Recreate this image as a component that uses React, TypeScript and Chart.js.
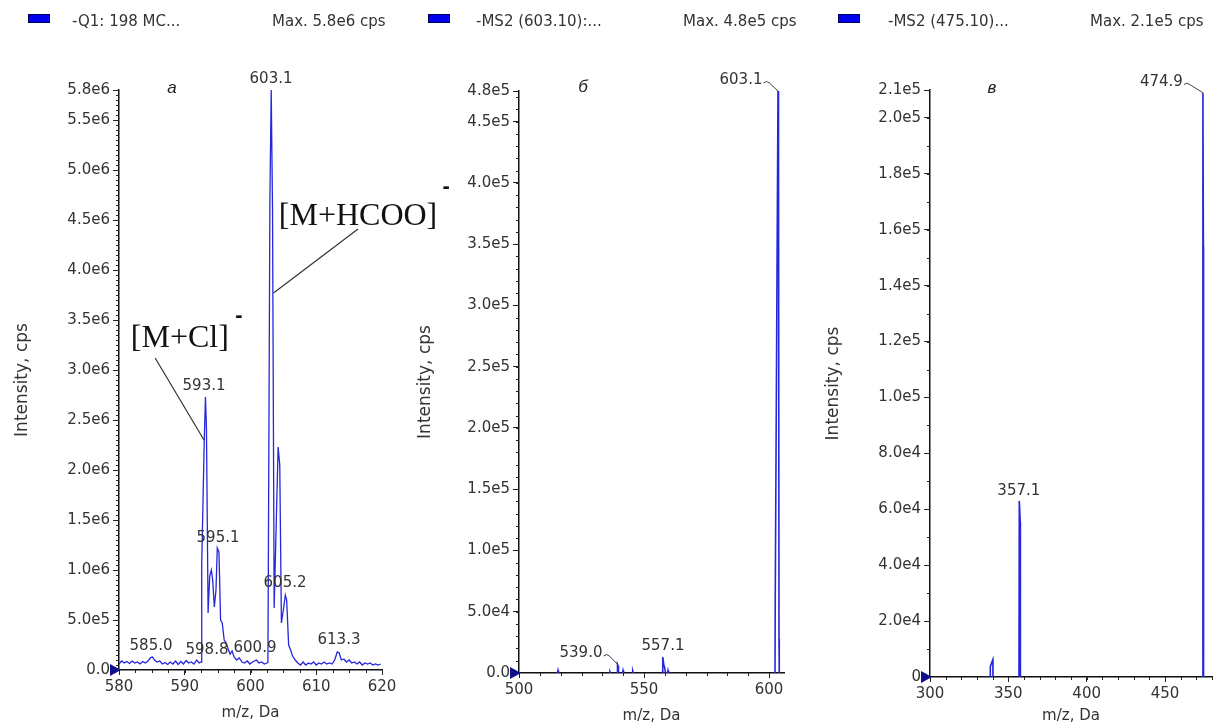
import React, { useEffect, useRef } from "react";
import { Chart, registerables } from "chart.js";

Chart.register(...registerables);

const FONT = "'DejaVu Sans', sans-serif";

// ---------- Panel a: -Q1 full scan (profile) ----------
const mzA = [
  580.0, 580.4, 580.8, 581.2, 581.6, 582.0, 582.4, 582.8, 583.2, 583.6, 584.0, 584.4, 584.8, 585.1, 585.4, 585.8,
  586.2, 586.6, 587.0, 587.4, 587.8, 588.2, 588.6, 589.0, 589.4, 589.8, 590.2, 590.6, 591.0, 591.4, 591.8, 592.2,
  592.5, 592.58, 592.95, 593.15, 593.3, 593.55, 593.8, 594.05, 594.25, 594.5, 594.75, 594.95, 595.2, 595.45, 595.7,
  596.0, 596.3, 596.6, 596.9, 597.2, 597.5, 597.9, 598.3, 598.7, 599.1, 599.5, 599.9, 600.3, 600.9, 601.3, 601.7,
  602.1, 602.5, 602.65, 602.7, 602.95, 603.15, 603.35, 603.6, 604.2, 604.45, 604.7, 605.0, 605.3, 605.5, 605.8,
  606.1, 606.4, 606.8, 607.2, 607.6, 608.0, 608.4, 608.8, 609.2, 609.6, 610.0, 610.4, 610.8, 611.2, 611.6, 612.0,
  612.4, 612.8, 613.2, 613.5, 613.8, 614.2, 614.6, 615.0, 615.4, 615.8, 616.2, 616.6, 617.0, 617.4, 617.8, 618.2,
  618.6, 619.0, 619.4, 619.8,
];
const intA = [
  6.0e4, 9.0e4, 7.0e4, 8.5e4, 6.5e4, 9.0e4, 7.0e4, 8.0e4, 6.0e4, 8.5e4, 7.0e4, 9.0e4, 1.25e5, 1.3e5, 1.0e5, 8.0e4,
  9.0e4, 6.0e4, 7.5e4, 5.5e4, 8.0e4, 6.0e4, 9.0e4, 5.5e4, 8.5e4, 6.0e4, 9.5e4, 7.0e4, 8.0e4, 6.0e4, 1.0e5, 7.0e4,
  8.0e4, 1.05e6, 2.25e6, 2.73e6, 2.42e6, 5.7e5, 9.4e5, 1.0e6, 9.0e5, 6.3e5, 8.0e5, 1.22e6, 1.18e6, 5.0e5, 4.7e5,
  3.0e5, 2.7e5, 2.1e5, 1.6e5, 1.9e5, 1.3e5, 1.0e5, 1.2e5, 8.0e4, 7.0e4, 9.0e4, 6.0e4, 8.0e4, 1.0e5, 7.0e4, 8.0e4,
  6.0e4, 7.0e4, 8.0e4, 8.0e5, 4.7e6, 5.8e6, 4.6e6, 6.2e5, 2.23e6, 2.05e6, 4.7e5, 6.0e5, 7.5e5, 7.0e5, 2.5e5,
  2.0e5, 1.4e5, 1.0e5, 7.0e4, 5.0e4, 8.0e4, 5.0e4, 7.0e4, 6.0e4, 8.0e4, 5.0e4, 7.0e4, 6.0e4, 8.0e4, 6.0e4, 7.0e4,
  6.0e4, 1.0e5, 1.8e5, 1.7e5, 1.0e5, 1.1e5, 8.0e4, 1.0e5, 7.0e4, 8.0e4, 6.0e4, 8.0e4, 5.0e4, 7.0e4, 6.0e4, 7.0e4,
  5.0e4, 6.0e4, 5.0e4, 6.0e4,
];
const xTicksA = [580, 590, 600, 610, 620];
const xLabelsA = ["580", "590", "600", "610", "620"];
const yTicksA = [0, 5e5, 1e6, 1.5e6, 2e6, 2.5e6, 3e6, 3.5e6, 4e6, 4.5e6, 5e6, 5.5e6, 5.8e6];
const yLabelsA = ["0.0", "5.0e5", "1.0e6", "1.5e6", "2.0e6", "2.5e6", "3.0e6", "3.5e6", "4.0e6", "4.5e6", "5.0e6", "5.5e6", "5.8e6"];

// ---------- Panel б: -MS2 (603.10) ----------
const mzB = [
  515.4, 515.6, 515.8, 515.8,
  536.2, 536.4, 536.6, 536.6,
  539.2, 539.4, 539.6, 539.8, 539.8,
  541.4, 541.6, 541.8, 541.8,
  545.3, 545.5, 545.7, 545.7,
  557.2, 557.5, 557.9, 558.3, 558.6, 558.6,
  559.4, 559.6, 559.8, 559.8,
  602.4, 602.5, 603.6, 603.8, 604.0, 604.1,
];
const intB = [
  0, 2.0e3, 0, null,
  0, 1.0e3, 0, null,
  0, 7.0e3, 6.0e3, 0, null,
  0, 2.0e3, 0, null,
  0, 1.5e3, 0, null,
  0, 1.3e4, 7.0e3, 4.0e3, 0, null,
  0, 2.0e3, 0, null,
  0, 6.1e4, 4.75e5, 4.45e5, 2.8e4, 0,
];
const xTicksB = [500, 550, 600];
const xLabelsB = ["500", "550", "600"];
const yTicksB = [0, 5e4, 1e5, 1.5e5, 2e5, 2.5e5, 3e5, 3.5e5, 4e5, 4.5e5, 4.75e5];
const yLabelsB = ["0.0", "5.0e4", "1.0e5", "1.5e5", "2.0e5", "2.5e5", "3.0e5", "3.5e5", "4.0e5", "4.5e5", "4.8e5"];

// ---------- Panel в: -MS2 (475.10) ----------
const mzC = [
  338.4, 338.5, 340.1, 340.2, 340.2,
  356.8, 357.0, 357.6, 357.7, 357.7,
  474.0, 474.2, 474.5, 474.6,
];
const intC = [
  0, 3.8e3, 6.2e3, 0, null,
  0, 6.3e4, 5.55e4, 0, null,
  0, 2.09e5, 1.54e5, 0,
];
const xTicksC = [300, 350, 400, 450];
const xLabelsC = ["300", "350", "400", "450"];
const yTicksC = [0, 2e4, 4e4, 6e4, 8e4, 1e5, 1.2e5, 1.4e5, 1.6e5, 1.8e5, 2e5, 2.1e5];
const yLabelsC = ["0", "2.0e4", "4.0e4", "6.0e4", "8.0e4", "1.0e5", "1.2e5", "1.4e5", "1.6e5", "1.8e5", "2.0e5", "2.1e5"];

// ---------- panel definitions (layout + annotations) ----------
const panelA = {
  mz: mzA, inten: intA, xMin: 580, xMax: 620, yMax: 5.8e6,
  xTicks: xTicksA, xLabels: xLabelsA, yTicks: yTicksA, yLabels: yLabelsA,
  xMinor: 2.5, yMinor: 5e4, lineWidth: 1.3,
  box: { yAxisWidth: 119, xAxisHeight: 55, top: 90, right: 88 },
  yTitlePad: 12, xTitlePad: 3,
  letter: { text: "a", x: 588.06, y: 5.82e6 },
  peakLabels: [
    { text: "603.1", x: 603.12, y: 5.91e6 },
    { text: "593.1", x: 592.93, y: 2.84e6 },
    { text: "595.1", x: 595.06, y: 1.32e6 },
    { text: "605.2", x: 605.25, y: 8.7e5 },
    { text: "585.0", x: 584.87, y: 2.4e5 },
    { text: "598.8", x: 593.38, y: 2.0e5 },
    { text: "600.9", x: 600.68, y: 2.2e5 },
    { text: "613.3", x: 613.46, y: 3.0e5 },
  ],
  tildes: [],
  ions: [
    { text: "[M+HCOO]", x: 604.3, y: 4.45e6, from: [616.35, 4.41e6], to: [603.5, 3.77e6], mdx: 9, mdy: -38 },
    { text: "[M+Cl]", x: 581.8, y: 3.23e6, from: [585.5, 3.12e6], to: [592.93, 2.3e6], mdx: 10, mdy: -31 },
  ],
};

const panelB = {
  mz: mzB, inten: intB, xMin: 500, xMax: 606, yMax: 4.75e5,
  xTicks: xTicksB, xLabels: xLabelsB, yTicks: yTicksB, yLabels: yLabelsB,
  xMinor: 50 / 6, yMinor: 1e4, lineWidth: 1.6,
  box: { yAxisWidth: 109, xAxisHeight: 52, top: 91, right: 31 },
  yTitlePad: 5, xTitlePad: 0,
  letter: { text: "б", x: 525.6, y: 4.78e5 },
  peakLabels: [
    { text: "603.1", x: 588.8, y: 4.84e5 },
    { text: "539.0", x: 524.8, y: 1.63e4 },
    { text: "557.1", x: 557.6, y: 2.2e4 },
  ],
  tildes: [
    { x: 588.8, y: 4.84e5, px: 603.6, py: 4.75e5 },
    { x: 524.8, y: 1.63e4, px: 539.4, py: 7.0e3 },
  ],
  ions: [],
};

const panelC = {
  mz: mzC, inten: intC, xMin: 300, xMax: 480, yMax: 2.1e5,
  xTicks: xTicksC, xLabels: xLabelsC, yTicks: yTicksC, yLabels: yLabelsC,
  xMinor: 10, yMinor: 1e4, lineWidth: 1.6,
  box: { yAxisWidth: 115, xAxisHeight: 48, top: 90, right: 4 },
  yTitlePad: 8, xTitlePad: 0,
  letter: { text: "в", x: 339.5, y: 2.107e5 },
  peakLabels: [
    { text: "474.9", x: 447.7, y: 2.13e5 },
    { text: "357.1", x: 356.7, y: 6.65e4 },
  ],
  tildes: [{ x: 447.7, y: 2.13e5, px: 474.2, py: 2.09e5 }],
  ions: [],
};

function decorPlugin(p: any) {
  return {
    id: "decor",
    afterDraw(chart: any) {
      const { ctx, chartArea: area } = chart;
      const xs = chart.scales.x;
      const ys = chart.scales.y;
      const X = (v: number) => xs.getPixelForValue(v);
      const Y = (v: number) => ys.getPixelForValue(v);
      ctx.save();
      ctx.strokeStyle = "#222";
      ctx.lineWidth = 1;
      // minor ticks
      for (let i = 0; i * p.yMinor <= p.yMax + 1e-6; i++) {
        const py = Math.round(Y(i * p.yMinor)) + 0.5;
        ctx.beginPath();
        ctx.moveTo(area.left - 3, py);
        ctx.lineTo(area.left, py);
        ctx.stroke();
      }
      for (let i = 0; p.xMin + i * p.xMinor <= p.xMax + 1e-6; i++) {
        const px = Math.round(X(p.xMin + i * p.xMinor)) + 0.5;
        ctx.beginPath();
        ctx.moveTo(px, area.bottom);
        ctx.lineTo(px, area.bottom + 3);
        ctx.stroke();
      }
      // origin marker
      const ox = area.left;
      const oy = Y(0);
      ctx.fillStyle = "#10108c";
      ctx.beginPath();
      ctx.moveTo(ox - 9, oy - 6);
      ctx.lineTo(ox + 2, oy);
      ctx.lineTo(ox - 9, oy + 6);
      ctx.closePath();
      ctx.fill();
      // peak labels
      ctx.fillStyle = "#333";
      ctx.font = `15px ${FONT}`;
      ctx.textAlign = "center";
      ctx.textBaseline = "middle";
      for (const l of p.peakLabels) ctx.fillText(l.text, X(l.x), Y(l.y));
      // tilde connectors
      ctx.strokeStyle = "#444";
      for (const t of p.tildes) {
        const lab = p.peakLabels.find((l: any) => l.x === t.x && l.y === t.y);
        const w = ctx.measureText(lab.text).width;
        const sx = X(t.x) + w / 2 + 1;
        const sy = Y(t.y) + 3;
        const ex = X(t.px);
        const ey = Y(t.py);
        ctx.beginPath();
        ctx.moveTo(sx, sy);
        ctx.quadraticCurveTo(sx + 3, sy - 3, sx + 6, sy);
        ctx.lineTo(ex, ey);
        ctx.stroke();
      }
      // panel letter
      ctx.fillStyle = "#222";
      ctx.font = `italic 17px 'Liberation Sans', sans-serif`;
      ctx.fillText(p.letter.text, X(p.letter.x), Y(p.letter.y));
      // ion annotations
      for (const a of p.ions) {
        ctx.strokeStyle = "#333";
        ctx.lineWidth = 1.2;
        ctx.beginPath();
        ctx.moveTo(X(a.from[0]), Y(a.from[1]));
        ctx.lineTo(X(a.to[0]), Y(a.to[1]));
        ctx.stroke();
        ctx.fillStyle = "#111";
        ctx.font = `32px 'Liberation Serif', serif`;
        ctx.textAlign = "left";
        ctx.textBaseline = "alphabetic";
        const tx = X(a.x);
        const ty = Y(a.y);
        ctx.fillText(a.text, tx, ty);
        const w = ctx.measureText(a.text).width;
        ctx.font = `bold 22px 'Liberation Sans', sans-serif`;
        ctx.textAlign = "center";
        ctx.textBaseline = "middle";
        ctx.fillText("-", tx + w + a.mdx, ty + a.mdy);
      }
      ctx.restore();
    },
  };
}

function makeChart(canvas: HTMLCanvasElement, p: any) {
  const tickFont = { family: FONT, size: 15 };
  return new Chart(canvas, {
    type: "line",
    data: {
      datasets: [
        {
          data: p.mz.map((x: number, i: number) => ({ x, y: p.inten[i] })),
          borderColor: "#2626dc",
          borderWidth: p.lineWidth,
          pointRadius: 0,
          tension: 0,
          spanGaps: false,
          fill: false,
        },
      ],
    },
    options: {
      animation: false,
      responsive: false,
      maintainAspectRatio: false,
      devicePixelRatio: 1,
      events: [],
      layout: { padding: { left: 0, top: p.box.top, right: p.box.right, bottom: 0 } },
      plugins: { legend: { display: false }, tooltip: { enabled: false } },
      scales: {
        x: {
          type: "linear",
          min: p.xMin,
          max: p.xMax,
          afterBuildTicks: (s: any) => {
            s.ticks = p.xTicks.map((v: number) => ({ value: v }));
          },
          afterFit: (s: any) => {
            s.height = p.box.xAxisHeight;
          },
          ticks: {
            autoSkip: false,
            maxRotation: 0,
            padding: 3,
            font: tickFont,
            color: "#333",
            callback: (v: any) => p.xLabels[p.xTicks.indexOf(v)] ?? "",
          },
          grid: { drawOnChartArea: false, drawTicks: true, tickLength: 5, color: "#222" },
          border: { display: true, color: "#111", width: 1.5 },
          title: {
            display: true,
            text: "m/z, Da",
            font: { family: FONT, size: 15 },
            color: "#333",
            padding: { top: 0, bottom: p.xTitlePad },
          },
        },
        y: {
          type: "linear",
          position: "left",
          min: 0,
          max: p.yMax,
          afterBuildTicks: (s: any) => {
            s.ticks = p.yTicks.map((v: number) => ({ value: v }));
          },
          afterFit: (s: any) => {
            s.width = p.box.yAxisWidth;
          },
          ticks: {
            autoSkip: false,
            padding: 3,
            font: tickFont,
            color: "#333",
            callback: (v: any) => p.yLabels[p.yTicks.indexOf(v)] ?? "",
          },
          grid: { drawOnChartArea: false, drawTicks: true, tickLength: 6, color: "#222" },
          border: { display: true, color: "#111", width: 1.5 },
          title: {
            display: true,
            text: "Intensity, cps",
            font: { family: FONT, size: 17 },
            color: "#333",
            padding: { top: p.yTitlePad, bottom: 0 },
          },
        },
      },
    },
    plugins: [decorPlugin(p)],
  } as any);
}

const legendItems = [
  { box: 28, name: "-Q1: 198 MC...", nameX: 72, max: "Max. 5.8e6 cps", maxX: 272 },
  { box: 428, name: "-MS2 (603.10):...", nameX: 476, max: "Max. 4.8e5 cps", maxX: 683 },
  { box: 838, name: "-MS2 (475.10)...", nameX: 888, max: "Max. 2.1e5 cps", maxX: 1090 },
];

export default function App() {
  const refA = useRef<HTMLCanvasElement>(null);
  const refB = useRef<HTMLCanvasElement>(null);
  const refC = useRef<HTMLCanvasElement>(null);

  useEffect(() => {
    const charts = [
      makeChart(refA.current!, panelA),
      makeChart(refB.current!, panelB),
      makeChart(refC.current!, panelC),
    ];
    return () => charts.forEach((c) => c.destroy());
  }, []);

  const txt: React.CSSProperties = {
    position: "absolute",
    top: 12,
    fontFamily: FONT,
    fontSize: 15,
    lineHeight: "18px",
    color: "#333",
    whiteSpace: "nowrap",
  };

  return (
    <div style={{ position: "absolute", left: 0, top: 0, width: 1216, height: 725, background: "#fff", overflow: "hidden" }}>
      <canvas ref={refA} width={470} height={725} style={{ position: "absolute", left: 0, top: 0, width: 470, height: 725 }} />
      <canvas ref={refB} width={405} height={725} style={{ position: "absolute", left: 410, top: 0, width: 405, height: 725 }} />
      <canvas ref={refC} width={401} height={725} style={{ position: "absolute", left: 815, top: 0, width: 401, height: 725 }} />
      {legendItems.map((l, i) => (
        <React.Fragment key={i}>
          <div style={{ position: "absolute", left: l.box, top: 14, width: 20, height: 7, background: "#0000ee", border: "1px solid #00005a" }} />
          <div style={{ ...txt, left: l.nameX }}>{l.name}</div>
          <div style={{ ...txt, left: l.maxX }}>{l.max}</div>
        </React.Fragment>
      ))}
    </div>
  );
}
